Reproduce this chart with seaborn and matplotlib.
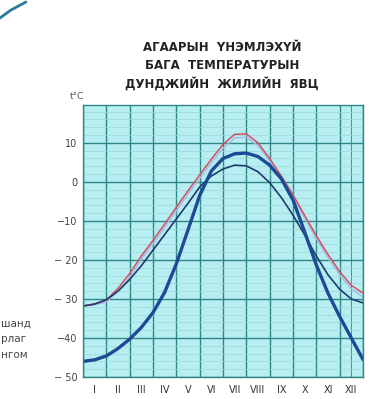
import numpy as np
import pandas as pd
import seaborn as sns
import matplotlib
matplotlib.use("Agg")
import matplotlib.pyplot as plt
from matplotlib.ticker import FixedLocator, MultipleLocator
from matplotlib.lines import Line2D

# half-month positions, 0 = start of January, 12 = end of December
month_pos = [0, 0.5, 1, 1.5, 2, 2.5, 3, 3.5, 4, 4.5, 5, 5.5, 6,
             6.5, 7, 7.5, 8, 8.5, 9, 9.5, 10, 10.5, 11, 11.5, 12]

temp_red = [-31.8, -31.3, -30.3, -27.3, -23.5, -19.0, -15.0, -10.8, -6.5, -2.3,
            1.8, 5.8, 9.6, 12.2, 12.3, 10.0, 6.0, 1.5, -3.3, -8.6,
            -13.8, -18.6, -23.0, -26.5, -28.5]
temp_shadow = [-31.8, -31.5, -30.8, -28.0, -24.5, -19.8, -15.8, -11.7, -7.4, -3.1,
               0.9, 4.9, 8.6, 11.3, 11.4, 9.3, 5.4, 0.8, -4.0, -9.3,
               -14.5, -19.4, -23.8, -27.4, -29.5]
temp_thin = [-31.8, -31.3, -30.2, -28.0, -25.0, -21.5, -17.5, -13.5, -9.5, -5.5,
             -1.3, 1.5, 3.3, 4.3, 4.1, 2.6, -0.2, -4.0, -8.5, -13.6,
             -19.0, -23.8, -27.5, -30.0, -31.0]
temp_thick = [-46.0, -45.6, -44.6, -42.7, -40.3, -37.3, -33.5, -28.3, -21.0, -12.3,
              -3.5, 2.8, 6.0, 7.2, 7.4, 6.5, 4.3, 0.8, -4.6, -12.8,
              -21.3, -28.5, -34.5, -40.0, -45.5]

month_labels = ["I", "II", "III", "IV", "V", "VI", "VII", "VIII", "IX", "X", "XI", "XII"]
y_ticks = [10, 0, -10, -20, -30, -40, -50]
y_labels = ["10", "0", "−10", "− 20", "− 30", "−40", "− 50"]

title = "АГААРЫН  ҮНЭМЛЭХҮЙ\nБАГА  ТЕМПЕРАТУРЫН\nДУНДЖИЙН  ЖИЛИЙН  ЯВЦ"
side_words = ["шанд", "рлаг", "нгом"]

grid_col = "#2f8683"
sns.set_style("white", {"axes.facecolor": "#b6eef2"})
plt.rcParams['font.family'] = ['DejaVu Sans']

fig = plt.figure(figsize=(3.70, 3.99), dpi=100)
ax = fig.add_axes([0.2243, 0.0551, 0.7567, 0.6817])

df = pd.DataFrame({"m": month_pos, "red": temp_red, "shadow": temp_shadow,
                   "thin": temp_thin, "thick": temp_thick})

line_kw = dict(solid_joinstyle="round", solid_capstyle="round")
sns.lineplot(data=df, x="m", y="shadow", ax=ax, color="#a9b6e8", lw=1.0, **line_kw)
sns.lineplot(data=df, x="m", y="red", ax=ax, color="#d4505e", lw=1.1, **line_kw)
sns.lineplot(data=df, x="m", y="thin", ax=ax, color="#1f3a6e", lw=1.2, **line_kw)
sns.lineplot(data=df, x="m", y="thick", ax=ax, color="#1c4a96", lw=2.4, **line_kw)

ax.set_xlim(0, 12)
ax.set_ylim(-50, 19.7)

ax.xaxis.set_major_locator(FixedLocator(range(13)))
ax.xaxis.set_minor_locator(FixedLocator([i + 0.5 for i in range(12)]))
ax.set_xticklabels([])
ax.set_xticklabels(month_labels, minor=True)
ax.yaxis.set_major_locator(FixedLocator(y_ticks))
ax.set_yticklabels(y_labels)
ax.yaxis.set_minor_locator(MultipleLocator(2))

ax.grid(True, which="major", color=grid_col, lw=1.0)
ax.grid(True, axis="y", which="minor", color="#9ad8d8", lw=0.5)
ax.axvline(11.5, color=grid_col, lw=0.6, zorder=0.5)
ax.set_axisbelow(True)

ax.tick_params(axis="x", which="both", length=0, pad=6, labelsize=7, labelcolor="#333333")
ax.tick_params(axis="y", which="both", length=0, pad=4, labelsize=7, labelcolor="#444444")
for s in ax.spines.values():
    s.set_color(grid_col)
    s.set_linewidth(1.0)
ax.set_xlabel("")
ax.set_ylabel("")

fig.text(0.208, 0.748, "t°C", fontsize=6.5, color="#555555", ha="center", va="bottom")
fig.text(0.60, 0.772, title, fontsize=8.5, fontweight="bold", ha="center", va="bottom",
         linespacing=1.5, color="#222222")
for i, w in enumerate(side_words):
    fig.text(0.003, 0.19 - i * 0.04, w, fontsize=7.5, color="#444444", ha="left", va="center")

fig.add_artist(Line2D([0.0, 0.03, 0.07], [0.955, 0.975, 0.995], transform=fig.transFigure,
                      color="#2b7a9a", lw=2.0))

fig.savefig("out.png", dpi=100)
